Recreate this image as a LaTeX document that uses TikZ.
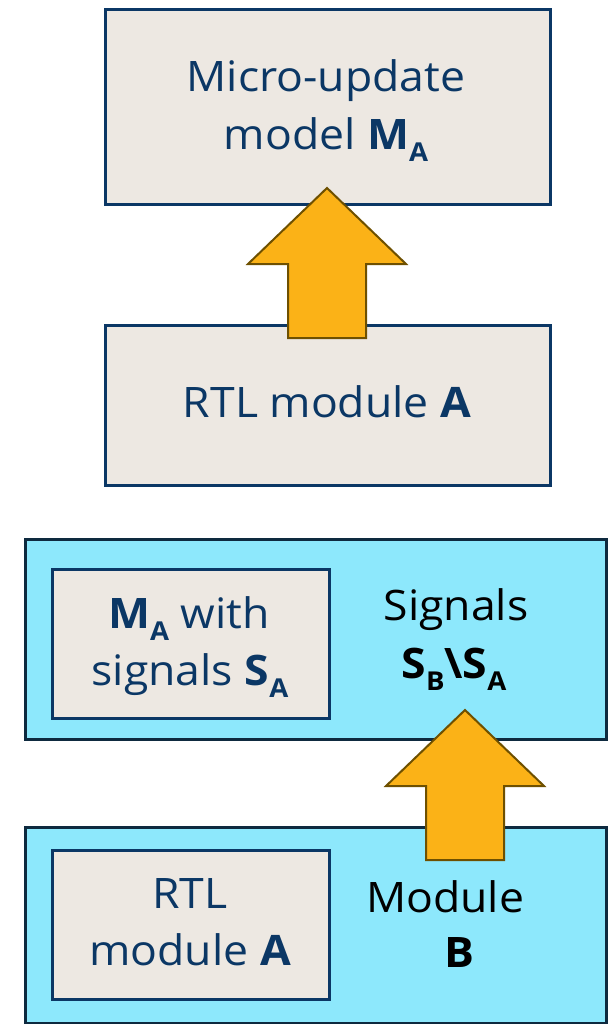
\documentclass[tikz,border=0pt]{standalone}
\usepackage{fontspec}
\setmainfont{Open Sans}[FakeStretch=1.06]
\usetikzlibrary{calc}
\definecolor{navy}{HTML}{0B3765}
\definecolor{beige}{HTML}{EDE8E2}
\definecolor{cyanfill}{HTML}{8DE8FC}
\definecolor{deepedge}{HTML}{0E2A3F}
\definecolor{amber}{HTML}{FBB217}
\definecolor{amberedge}{HTML}{6E5000}
% bold symbol with a lowered bold subscript
\newcommand\bsub[2]{\textbf{#1}\raisebox{-12pt}{\fontsize{26}{26}\selectfont\bfseries #2}}
\tikzset{
  lightbox/.style={draw=navy, fill=beige, line width=3pt, inner sep=0pt, anchor=north west},
  outerbox/.style={draw=deepedge, fill=cyanfill, line width=3pt, inner sep=0pt, anchor=north west},
  boxtext/.style={text=navy, anchor=base, inner sep=0pt, font=\fontsize{42}{50}\selectfont},
  sidetext/.style={text=black, anchor=base, inner sep=0pt, font=\fontsize{42}{50}\selectfont},
  blockarrow/.style={draw=amberedge, fill=amber, line width=2pt, line join=miter},
}
% upward block arrow from a base point to a tip point
\newcommand\upblock[2]{%
  \path[blockarrow] let \p1=(#1), \p2=(#2) in
    (\x1,\y1) -- (\x1+79pt,\y1-76pt) -- (\x1+39pt,\y1-76pt) -- (\x1+39pt,\y2)
    -- (\x1-39pt,\y2) -- (\x1-39pt,\y1-76pt) -- (\x1-79pt,\y1-76pt) -- cycle;}
\begin{document}
\begin{tikzpicture}[x=1pt,y=-1pt]
\useasboundingbox (0,0) rectangle (610,1024);

% upper pair: model above RTL module
\node[lightbox, minimum width=445, minimum height=195] (model) at (104,8) {};
\node[boxtext] (modelA) at (326,92) {Micro-update};
\node[boxtext] (modelB) at (326,150) {model \bsub{M}{A}};
\node[lightbox, minimum width=445, minimum height=160] (rtl) at (104,324) {};
\node[boxtext] (rtltxt) at (327,417) {RTL module \textbf{A}};
\coordinate (tipA) at (327,188);
\coordinate (baseA) at (327,338);
\upblock{tipA}{baseA}

% lower pair: module B contexts
\node[outerbox, minimum width=581, minimum height=200] (sigbox) at (24,538) {};
\node[lightbox, minimum width=277, minimum height=149] (withsig) at (51,568) {};
\node[boxtext] (withsigA) at (189,628) {\bsub{M}{A} with};
\node[boxtext] (withsigB) at (190,685) {signals \bsub{S}{A}};
\node[sidetext] (sigA) at (456,620) {Signals};
\node[sidetext] (sigB) at (454,678) {\bsub{S}{B}\textbf{\textbackslash}\bsub{S}{A}};

\node[outerbox, minimum width=581, minimum height=196] (modbox) at (24,826) {};
\node[lightbox, minimum width=277, minimum height=149] (inner) at (51,849) {};
\node[boxtext] (innerA) at (190,908) {RTL};
\node[boxtext] (innerB) at (190,965) {module \textbf{A}};
\node[sidetext] (modA) at (445,912) {Module};
\node[sidetext] (modB) at (459,967) {\textbf{B}};
\coordinate (tipB) at (465,710);
\coordinate (baseB) at (465,860);
\upblock{tipB}{baseB}
\end{tikzpicture}
\end{document}
